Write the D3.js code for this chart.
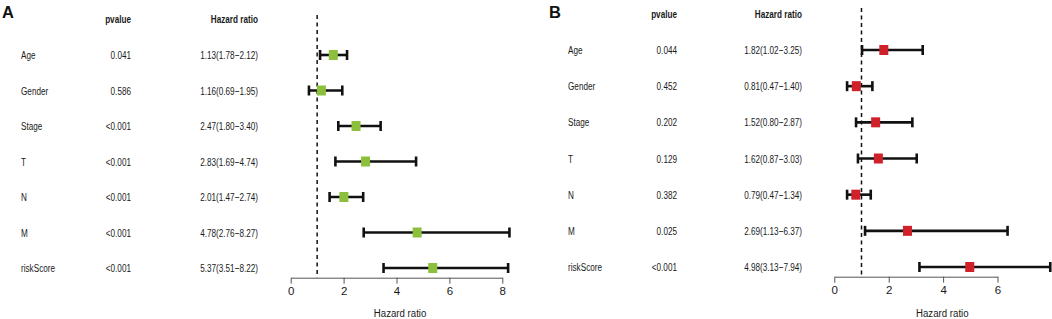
<!DOCTYPE html>
<html>
<head>
<meta charset="utf-8">
<script src="https://cdn.jsdelivr.net/npm/d3@7"></script>
<style>
  html, body { margin: 0; padding: 0; background: #fff; }
  svg { display: block; font-family: "Liberation Sans", Arial, sans-serif; }
</style>
</head>
<body>
<svg id="chart" width="1052" height="319"></svg>
<script>
// forest plots — univariate (A) and multivariate (B) Cox regression

const VARS = ['Age', 'Gender', 'Stage', 'T', 'N', 'M', 'riskScore'];

// panel A (text as printed, marks as drawn)
const A_PVAL = ['0.041', '0.586', '<0.001', '<0.001', '<0.001', '<0.001', '<0.001'];
const A_HR_TXT = ['1.13(1.78\u22122.12)', '1.16(0.69\u22121.95)', '2.47(1.80\u22123.40)', '2.83(1.69\u22124.74)',
                  '2.01(1.47\u22122.74)', '4.78(2.76\u22128.27)', '5.37(3.51\u22128.22)'];
const A_HR   = [1.61, 1.16, 2.47, 2.83, 2.01, 4.78, 5.37];
const A_LOW  = [1.11, 0.69, 1.80, 1.69, 1.47, 2.76, 3.51];
const A_HIGH = [2.13, 1.95, 3.40, 4.74, 2.74, 8.27, 8.22];
const A_TICKS = [0, 2, 4, 6, 8];

// panel B
const B_PVAL = ['0.044', '0.452', '0.202', '0.129', '0.382', '0.025', '<0.001'];
const B_HR_TXT = ['1.82(1.02\u22123.25)', '0.81(0.47\u22121.40)', '1.52(0.80\u22122.87)', '1.62(0.87\u22123.03)',
                  '0.79(0.47\u22121.34)', '2.69(1.13\u22126.37)', '4.98(3.13\u22127.94)'];
const B_HR   = [1.82, 0.81, 1.52, 1.62, 0.79, 2.69, 4.98];
const B_LOW  = [1.02, 0.47, 0.80, 0.87, 0.47, 1.13, 3.13];
const B_HIGH = [3.25, 1.40, 2.87, 3.03, 1.34, 6.37, 7.94];
const B_TICKS = [0, 2, 4, 6];

const svg = d3.select('#chart');

// text helper: table text is set in a narrow face, so squeeze horizontally
function txt(g, x, y, s, o = {}) {
    return g.append('text')
        .attr('transform', `translate(${x},${y}) scale(${o.k ?? 0.71},1)`)
        .attr('text-anchor', o.anchor || 'start')
        .attr('dy', o.dy ?? '0.35em')
        .attr('font-size', o.size || 11.5)
        .attr('font-weight', o.bold ? 'bold' : 'normal')
        .attr('fill', o.fill || '#1a1a1a')
        .text(s);
}

function panel(cfg) {
    const g = svg.append('g');
    const rows = VARS.map((v, i) => ({
        name: v, p: cfg.pval[i], txt: cfg.hrTxt[i], hr: cfg.hr[i], lo: cfg.low[i], hi: cfg.high[i]
    }));

    const y = d3.scalePoint().domain(VARS).range(cfg.rowRange);
    const xMax = d3.max(rows, d => d.hi);
    const x = d3.scaleLinear().domain([0, xMax]).range([cfg.x0, cfg.x0 + xMax * cfg.unit]);

    // panel letter
    txt(g, cfg.letterX, 18, cfg.letter, { k: 1, size: 16.5, bold: true, dy: 0, fill: '#111' });

    // headers
    txt(g, cfg.pX, cfg.headY, 'pvalue', { anchor: 'end', bold: true });
    txt(g, cfg.hrX, cfg.headY, 'Hazard ratio', { anchor: 'end', bold: true });

    // table
    rows.forEach(d => {
        txt(g, cfg.labX, y(d.name), d.name);
        txt(g, cfg.pX, y(d.name), d.p, { anchor: 'end' });
        txt(g, cfg.hrX, y(d.name), d.txt, { anchor: 'end' });
    });

    // reference line at HR = 1
    g.append('line')
        .attr('x1', x(1)).attr('x2', x(1))
        .attr('y1', cfg.dashTop).attr('y2', cfg.axisY)
        .attr('stroke', '#111').attr('stroke-width', 1.5)
        .attr('stroke-dasharray', '4,3.5');

    // whiskers + caps
    const capH = 5;
    const ci = g.selectAll('.ci').data(rows).join('g').attr('class', 'ci')
        .attr('stroke', '#111').attr('stroke-width', 2.6);
    ci.append('line')
        .attr('x1', d => x(d.lo)).attr('x2', d => x(d.hi))
        .attr('y1', d => y(d.name)).attr('y2', d => y(d.name));
    ci.append('line')
        .attr('x1', d => x(d.lo)).attr('x2', d => x(d.lo))
        .attr('y1', d => y(d.name) - capH).attr('y2', d => y(d.name) + capH);
    ci.append('line')
        .attr('x1', d => x(d.hi)).attr('x2', d => x(d.hi))
        .attr('y1', d => y(d.name) - capH).attr('y2', d => y(d.name) + capH);

    // point estimates
    g.selectAll('.pt').data(rows).join('rect').attr('class', 'pt')
        .attr('x', d => x(d.hr) - 4.5).attr('y', d => y(d.name) - 5)
        .attr('width', 9).attr('height', 10)
        .attr('fill', cfg.color);

    // x axis spans first..last tick only
    const ax = x.copy().domain(d3.extent(cfg.ticks)).range(d3.extent(cfg.ticks).map(x));
    const axG = g.append('g').attr('transform', `translate(0,${cfg.axisY})`)
        .call(d3.axisBottom(ax).tickValues(cfg.ticks).tickSize(6).tickSizeOuter(0).tickFormat(d3.format('d')));
    axG.select('.domain').attr('stroke', '#555');
    axG.selectAll('.tick line').attr('stroke', '#555');
    axG.selectAll('.tick text').attr('font-size', 11.5).attr('fill', '#1a1a1a')
        .attr('font-family', '"Liberation Sans", Arial, sans-serif');

    txt(g, (x.range()[0] + x.range()[1]) / 2, 313, 'Hazard ratio', { anchor: 'middle', k: 0.84 });
}

panel({
    letter: 'A', letterX: 2, color: '#8cbf3c',
    pval: A_PVAL, hrTxt: A_HR_TXT, hr: A_HR, low: A_LOW, high: A_HIGH, ticks: A_TICKS,
    labX: 21, pX: 131, hrX: 258, headY: 19,
    rowRange: [55, 268], x0: 290.7, unit: 26.45, axisY: 277.7, dashTop: 15
});

panel({
    letter: 'B', letterX: 549, color: '#d0202a',
    pval: B_PVAL, hrTxt: B_HR_TXT, hr: B_HR, low: B_LOW, high: B_HIGH, ticks: B_TICKS,
    labX: 568, pX: 677, hrX: 802, headY: 14,
    rowRange: [50, 267], x0: 834.3, unit: 27.2, axisY: 276.7, dashTop: 8
});
</script>
</body>
</html>
